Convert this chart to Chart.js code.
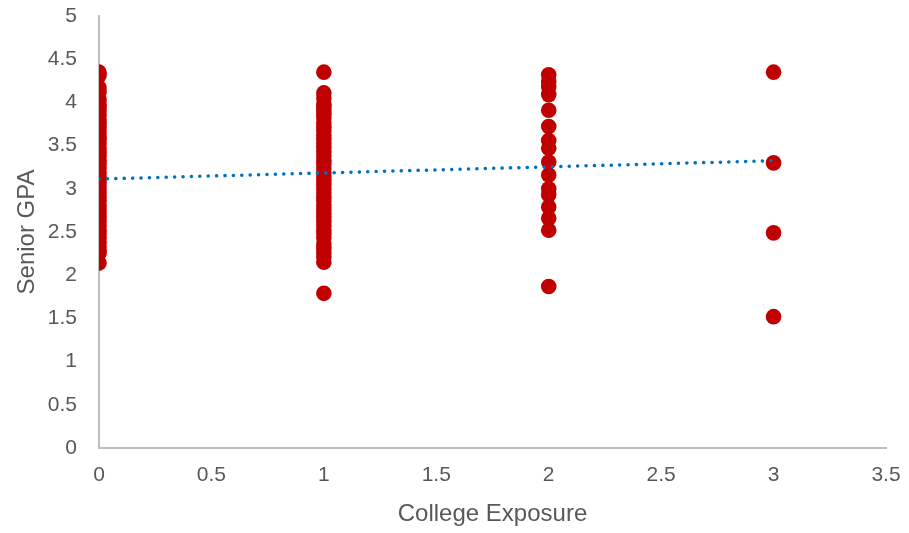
<!DOCTYPE html>
<html>
<head>
<meta charset="utf-8">
<script src="https://cdn.jsdelivr.net/npm/chart.js@4/dist/chart.umd.min.js"></script>
<style>
  html, body { margin: 0; padding: 0; background: #ffffff; }
  #wrap { width: 909px; height: 533px; position: relative; }
</style>
</head>
<body>
<div id="wrap"><canvas id="chart"></canvas></div>
<script>
// Senior GPA of students grouped by number of college-exposure events
const exposure0 = [4.35, 4.31, 4.17, 4.12, 4.03, 3.98, 3.94, 3.9, 3.85, 3.8, 3.76, 3.71, 3.66, 3.61, 3.57,
  3.52, 3.47, 3.42, 3.38, 3.33, 3.29, 3.24, 3.19, 3.14, 3.1, 3.05, 3.0, 2.95, 2.9, 2.86, 2.81, 2.76,
  2.71, 2.67, 2.62, 2.57, 2.52, 2.48, 2.43, 2.38, 2.33, 2.29, 2.25, 2.14];
const exposure1 = [4.35, 4.11, 4.05, 3.98, 3.94, 3.9, 3.86, 3.82, 3.76, 3.71, 3.67, 3.62, 3.57, 3.52,
  3.48, 3.43, 3.38, 3.33, 3.29, 3.24, 3.19, 3.14, 3.1, 3.05, 3.0, 2.95, 2.9, 2.86, 2.81, 2.76, 2.71,
  2.67, 2.62, 2.57, 2.52, 2.48, 2.43, 2.36, 2.31, 2.26, 2.21, 2.15, 1.79];
const exposure2 = [4.32, 4.24, 4.18, 4.09, 3.91, 3.72, 3.56, 3.47, 3.31, 3.16, 3.0, 2.93, 2.79, 2.66, 2.52, 1.87];
const exposure3 = [4.35, 3.3, 2.49, 1.52];

// Linear trendline end points
const trendX = [0, 3];
const trendY = [3.113, 3.325];

// Axis tick settings
const xTickStep = 0.5, xMax = 3.5;
const yTickStep = 0.5, yMax = 5;

const groups = [[0, exposure0], [1, exposure1], [2, exposure2], [3, exposure3]];
const points = [];
groups.forEach(([x, ys]) => ys.forEach(y => points.push({ x: x, y: y })));
const trendPoints = trendX.map((x, i) => ({ x: x, y: trendY[i] }));

const tickColor = '#595959';
const axisColor = '#bfbfbf';
const fontFamily = '"Liberation Sans", Arial, sans-serif';
const fmt = v => String(Number(v.toFixed(2)));

new Chart(document.getElementById('chart'), {
  type: 'scatter',
  data: {
    datasets: [
      {
        type: 'line',
        label: 'Linear trend',
        data: trendPoints,
        order: 0,
        borderColor: '#0070C0',
        borderWidth: 3.5,
        borderDash: [0.1, 8.3],
        borderCapStyle: 'round',
        pointRadius: 0,
        fill: false,
        tension: 0
      },
      {
        label: 'Senior GPA',
        data: points,
        order: 1,
        backgroundColor: '#C00000',
        borderColor: '#C00000',
        borderWidth: 0,
        pointRadius: 7.8,
        pointHoverRadius: 7.8
      }
    ]
  },
  options: {
    responsive: true,
    maintainAspectRatio: false,
    animation: false,
    layout: { padding: 0 },
    plugins: { legend: { display: false }, tooltip: { enabled: false } },
    scales: {
      x: {
        type: 'linear',
        min: 0,
        max: xMax,
        ticks: {
          stepSize: xTickStep,
          color: tickColor,
          font: { family: fontFamily, size: 21 },
          padding: 15,
          maxRotation: 0,
          callback: fmt
        },
        grid: { display: false, drawTicks: false },
        border: { display: true, color: axisColor, width: 2 },
        title: {
          display: true,
          text: 'College Exposure',
          color: tickColor,
          font: { family: fontFamily, size: 24 },
          padding: { top: 0, bottom: 4 }
        },
        afterFit: s => { s.height = 85; s.paddingRight = 23; }
      },
      y: {
        type: 'linear',
        min: 0,
        max: yMax,
        ticks: {
          stepSize: yTickStep,
          color: tickColor,
          font: { family: fontFamily, size: 21 },
          padding: 22,
          callback: fmt
        },
        grid: { display: false, drawTicks: false },
        border: { display: true, color: axisColor, width: 2 },
        title: {
          display: true,
          text: 'Senior GPA',
          color: tickColor,
          font: { family: fontFamily, size: 24 },
          padding: { top: 13, bottom: 0 }
        },
        afterFit: s => { s.width = 99; s.paddingTop = 16; }
      }
    }
  }
});
</script>
</body>
</html>
